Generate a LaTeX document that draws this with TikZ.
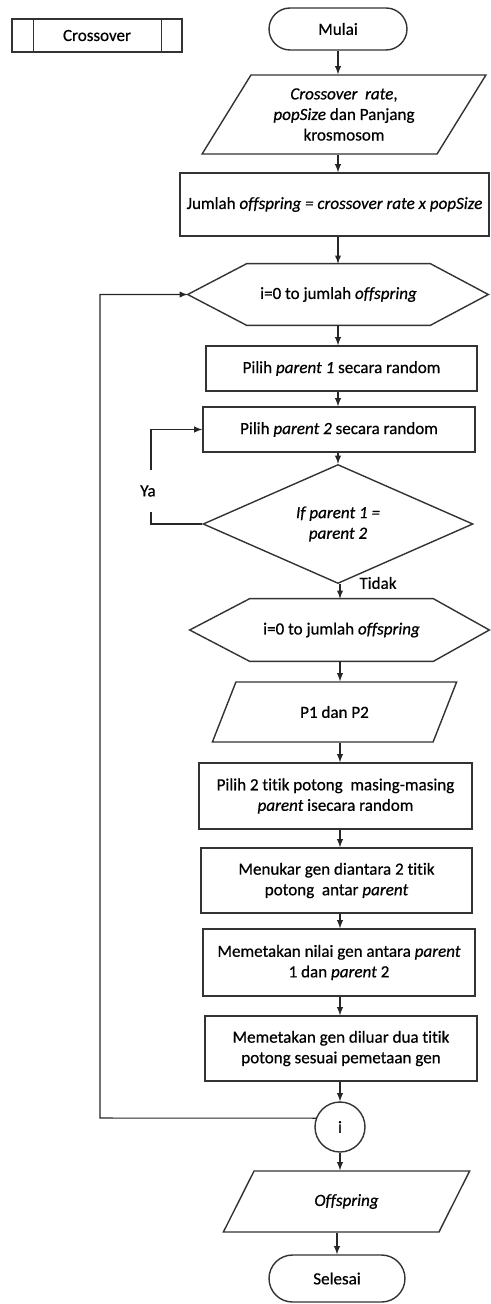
\documentclass[tikz,border=0pt]{standalone}
\usepackage{fontspec}
\setmainfont{Carlito}[Ligatures=NoCommon,FakeBold=0.6]
\usepackage{tikz}
\usetikzlibrary{positioning}
\usetikzlibrary{arrows}
\usetikzlibrary{shapes.geometric,shapes.misc}

\begin{document}
\begin{tikzpicture}[x=0.02cm,y=-0.02cm,>=latex,
  every node/.style={font=\fontsize{9.7}{11.7}\selectfont,align=center,inner sep=0pt},
  shp/.style={draw=black!80,thick},
  box/.style={shp,rectangle},
  io/.style={shp,trapezium,trapezium stretches=true},
  term/.style={shp,rounded rectangle},
  arr/.style={->,semithick,black!85}]
 \useasboundingbox (0,0) rectangle (490,1304);
 % header
 \node[box,minimum width=3.4cm,minimum height=0.66cm] (xover) at (97,35.5) {Crossover};
 \draw[shp] ([xshift=0.44cm]xover.north west) -- ([xshift=0.44cm]xover.south west);
 \draw[shp] ([xshift=-0.42cm]xover.north east) -- ([xshift=-0.42cm]xover.south east);
 % main column
 \node[term,minimum width=2.76cm,minimum height=0.84cm] (start) at (338,29) {Mulai};
 \node[io,trapezium left angle=54.7,trapezium right angle=125.3,minimum width=5.68cm,minimum height=1.58cm] (in1) at (344,114.5)
   {\textit{Crossover\ \ rate},\\ \textit{popSize} dan Panjang\\ krosmosom};
 \node[box,minimum width=6.18cm,minimum height=1.26cm] (jml) at (334.5,204.5)
   {Jumlah \textit{offspring = crossover rate x popSize}};
 % hexagon: node is the flat middle part, the points are added by hand
 \node[minimum width=3.66cm,minimum height=1.22cm] (loop1) at (338.5,294.5) {i=0 to jumlah \textit{offspring}};
 \coordinate (loop1tip) at ([xshift=-1.18cm]loop1.west);
 \draw[shp] (loop1.north west) -- (loop1.north east) -- ([xshift=1.16cm]loop1.east)
   -- (loop1.south east) -- (loop1.south west) -- (loop1tip) -- cycle;
 \node[box,minimum width=5.42cm,minimum height=0.9cm] (p1) at (341.5,368.5) {Pilih \textit{parent 1} secara random};
 \node[box,minimum width=5.44cm,minimum height=0.9cm] (p2) at (339,429.5) {Pilih \textit{parent 2} secara random};
 \node[shp,diamond,minimum width=5.4cm,minimum height=2.0cm] (cek) at (338,524) {\textit{If parent 1 =}\\ \textit{parent 2}};
 \node[minimum width=3.66cm,minimum height=1.24cm] (loop2) at (341.5,630) {i=0 to jumlah \textit{offspring}};
 \draw[shp] (loop2.north west) -- (loop2.north east) -- ([xshift=1.12cm]loop2.east)
   -- (loop2.south east) -- (loop2.south west) -- ([xshift=-1.2cm]loop2.west) -- cycle;
 \node[io,trapezium left angle=55.6,trapezium right angle=124.4,minimum width=4.9cm,minimum height=1.2cm] (in2) at (334.5,712) {P1 dan P2};
 \node[box,minimum width=5.46cm,minimum height=1.32cm] (s1) at (335.5,796)
   {Pilih 2 titik potong\ \ masing-masing\\ \textit{parent} isecara random};
 \node[box,minimum width=5.42cm,minimum height=1.3cm] (s2) at (336.5,880.5)
   {Menukar gen diantara 2 titik\\ potong\ \ antar \textit{parent}};
 \node[box,minimum width=5.44cm,minimum height=1.34cm] (s3) at (339,962.5)
   {Memetakan nilai gen antara \textit{parent}\\ 1 dan \textit{parent} 2};
 \node[box,minimum width=5.44cm,minimum height=1.3cm] (s4) at (341,1048.5)
   {Memetakan gen diluar dua titik\\ potong sesuai pemetaan gen};
 \node[shp,circle,minimum size=1cm] (conn) at (340,1127) {i};
 \node[io,trapezium left angle=54,trapezium right angle=126,minimum width=4.94cm,minimum height=1.22cm] (out) at (346.5,1201.5) {\textit{Offspring}};
 \node[term,minimum width=2.72cm,minimum height=0.94cm] (stop) at (337,1278.5) {Selesai};
 % arrows down
 \draw[arr] (start.south) -- (start.south |- in1.north);
 \draw[arr] (in1.south -| start.south) -- (start.south |- jml.north);
 \draw[arr] (jml.south -| start.south) -- (start.south |- loop1.north);
 \draw[arr] (loop1.south -| start.south) -- (start.south |- p1.north);
 \draw[arr] (p1.south -| start.south) -- (start.south |- p2.north);
 \draw[arr] (p2.south -| start.south) -- (cek.north);
 \draw[arr] (cek.south -| conn.north) -- (conn.north |- loop2.north);
 \draw[arr] (loop2.south -| conn.north) -- (conn.north |- in2.north);
 \draw[arr] (in2.south -| conn.north) -- (conn.north |- s1.north);
 \draw[arr] (s1.south -| conn.north) -- (conn.north |- s2.north);
 \draw[arr] (s2.south -| conn.north) -- (conn.north |- s3.north);
 \draw[arr] (s3.south -| conn.north) -- (conn.north |- s4.north);
 \draw[arr] (s4.south -| conn.north) -- (conn.north);
 \draw[arr] (conn.south) -- (conn.south |- out.north);
 \draw[arr] (out.south -| stop.north) -- (stop.north);
 % Ya loop
 \coordinate (yabend) at (151,524);
 \draw[arr] (cek.west) -- (yabend) |- (p2.west);
 \node[fill=white,inner xsep=2pt,inner ysep=9pt] (ya) at (148,491) {Ya};
 \node (tidak) at (378,583) {Tidak};
 % back to loop start
 \coordinate (back) at (100,1118);
 \draw[arr] (conn.160) -- (back) |- (loop1tip);
\end{tikzpicture}
\end{document}
